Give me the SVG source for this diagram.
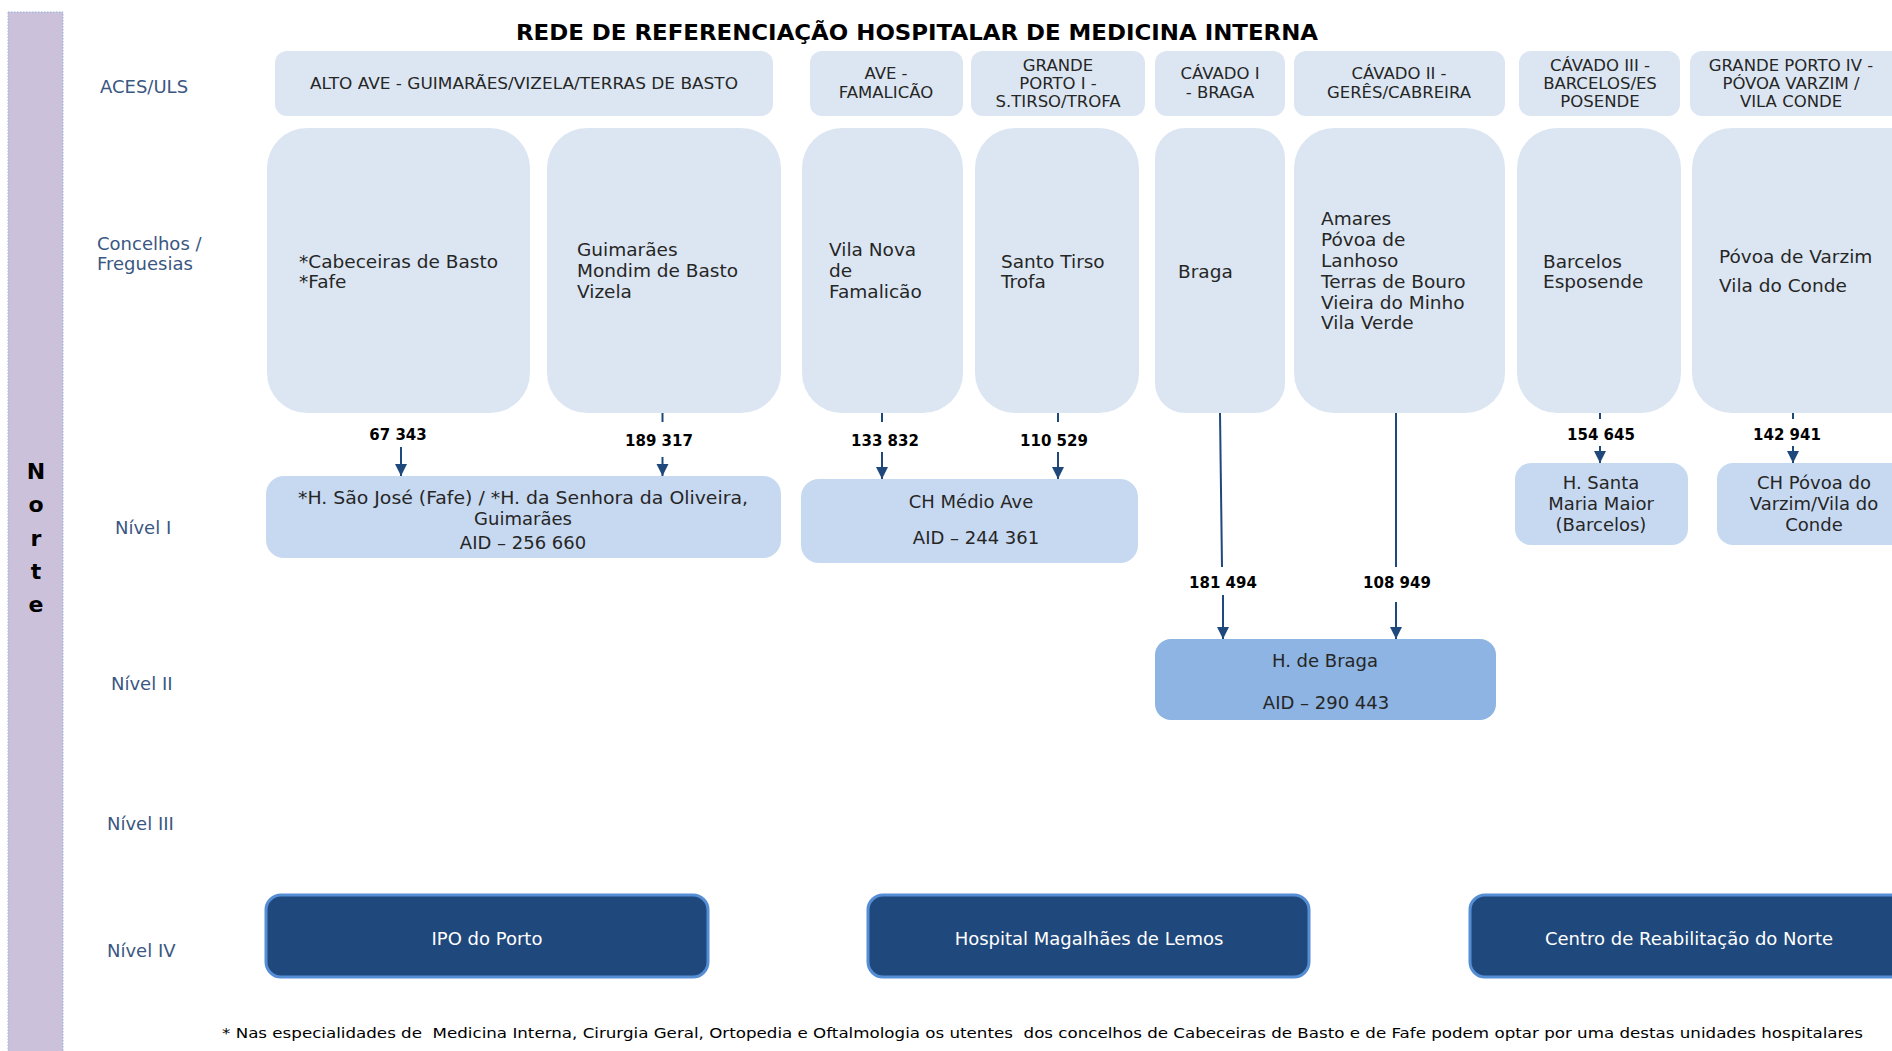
<svg xmlns="http://www.w3.org/2000/svg" width="1892" height="1051" viewBox="0 0 1892 1051">
<style>
text{font-family:"DejaVu Sans","Liberation Sans",sans-serif}
.title{font-size:21px;font-weight:bold;fill:#000}
.lvl{font-size:18px;fill:#3A5782}
.aces{font-size:16.5px;fill:#262626;text-anchor:middle}
.conc{font-size:18.5px;fill:#262626}
.hosp{font-size:18px;fill:#262626;text-anchor:middle}
.num{font-size:15px;font-weight:bold;fill:#000;text-anchor:middle}
.wt{font-size:18px;fill:#fff;text-anchor:middle}
.foot{font-size:14px;fill:#000}
.norte{font-size:22px;font-weight:bold;fill:#000;text-anchor:middle}
.bx{fill:#DCE6F2}
.n1{fill:#C6D9F1}
.n2{fill:#8DB4E2}
.n4{fill:#1F497D;stroke:#558ED5;stroke-width:3}
.ln{stroke:#1F497D;stroke-width:2;fill:none}
.ar{stroke:#1F497D;stroke-width:2;fill:none;marker-end:url(#ah)}
</style>
<defs>
<marker id="ah" markerUnits="userSpaceOnUse" markerWidth="13" markerHeight="13" refX="12" refY="6.5" orient="auto">
<path d="M0,0.5 L12,6.5 L0,12.5 z" fill="#1F497D"/>
</marker>
</defs>
<rect width="1892" height="1051" fill="#fff"/>

<g id="side">
<rect x="8" y="12" width="55" height="1050" fill="#CCC1DA" stroke="#95B3D7" stroke-width="1" stroke-dasharray="1.5,1.5"/>
<text class="norte" x="36" y="479">N</text>
<text class="norte" x="36" y="512">o</text>
<text class="norte" x="36" y="546">r</text>
<text class="norte" x="36" y="579">t</text>
<text class="norte" x="36" y="612">e</text>
</g>

<text id="title" class="title" x="516" y="40" textLength="802" lengthAdjust="spacingAndGlyphs">REDE DE REFERENCIAÇÃO HOSPITALAR DE MEDICINA INTERNA</text>

<g id="labels">
<text class="lvl" x="100" y="93">ACES/ULS</text>
<text class="lvl" x="97" y="250">Concelhos /</text>
<text class="lvl" x="97" y="270">Freguesias</text>
<text class="lvl" x="115" y="534">Nível I</text>
<text class="lvl" x="111" y="690">Nível II</text>
<text class="lvl" x="107" y="830">Nível III</text>
<text class="lvl" x="107" y="957">Nível IV</text>
</g>

<g id="aces1"><rect class="bx" x="275" y="51" width="498" height="65" rx="12"/><text class="aces" x="524" y="89" textLength="428" lengthAdjust="spacingAndGlyphs">ALTO AVE - GUIMARÃES/VIZELA/TERRAS DE BASTO</text></g>
<g id="aces2"><rect class="bx" x="810" y="51" width="153" height="65" rx="12"/><text class="aces" x="886" y="79">AVE -</text><text class="aces" x="886" y="98">FAMALICÃO</text></g>
<g id="aces3"><rect class="bx" x="971" y="51" width="174" height="65" rx="12"/><text class="aces" x="1058" y="71">GRANDE</text><text class="aces" x="1058" y="89">PORTO I -</text><text class="aces" x="1058" y="107">S.TIRSO/TROFA</text></g>
<g id="aces4"><rect class="bx" x="1155" y="51" width="130" height="65" rx="12"/><text class="aces" x="1220" y="79">CÁVADO I</text><text class="aces" x="1220" y="98">- BRAGA</text></g>
<g id="aces5"><rect class="bx" x="1294" y="51" width="211" height="65" rx="12"/><text class="aces" x="1399" y="79">CÁVADO II -</text><text class="aces" x="1399" y="98">GERÊS/CABREIRA</text></g>
<g id="aces6"><rect class="bx" x="1519" y="51" width="161" height="65" rx="12"/><text class="aces" x="1600" y="71">CÁVADO III -</text><text class="aces" x="1600" y="89">BARCELOS/ES</text><text class="aces" x="1600" y="107">POSENDE</text></g>
<g id="aces7"><rect class="bx" x="1690" y="51" width="230" height="65" rx="12"/><text class="aces" x="1791" y="71">GRANDE PORTO IV -</text><text class="aces" x="1791" y="89">PÓVOA VARZIM /</text><text class="aces" x="1791" y="107">VILA CONDE</text></g>

<g id="conc1"><rect class="bx" x="267" y="128" width="263" height="285" rx="40"/><text class="conc" x="299" y="268">*Cabeceiras de Basto</text><text class="conc" x="299" y="288">*Fafe</text></g>
<g id="conc2"><rect class="bx" x="547" y="128" width="234" height="285" rx="40"/><text class="conc" x="577" y="256">Guimarães</text><text class="conc" x="577" y="277">Mondim de Basto</text><text class="conc" x="577" y="298">Vizela</text></g>
<g id="conc3"><rect class="bx" x="802" y="128" width="161" height="285" rx="40"/><text class="conc" x="829" y="256">Vila Nova</text><text class="conc" x="829" y="277">de</text><text class="conc" x="829" y="298">Famalicão</text></g>
<g id="conc4"><rect class="bx" x="975" y="128" width="164" height="285" rx="40"/><text class="conc" x="1001" y="268">Santo Tirso</text><text class="conc" x="1001" y="288">Trofa</text></g>
<g id="conc5"><rect class="bx" x="1155" y="128" width="130" height="285" rx="30"/><text class="conc" x="1178" y="278">Braga</text></g>
<g id="conc6"><rect class="bx" x="1294" y="128" width="211" height="285" rx="40"/><text class="conc" x="1321" y="225">Amares</text><text class="conc" x="1321" y="246">Póvoa de</text><text class="conc" x="1321" y="267">Lanhoso</text><text class="conc" x="1321" y="288">Terras de Bouro</text><text class="conc" x="1321" y="309">Vieira do Minho</text><text class="conc" x="1321" y="329">Vila Verde</text></g>
<g id="conc7"><rect class="bx" x="1517" y="128" width="164" height="285" rx="40"/><text class="conc" x="1543" y="268">Barcelos</text><text class="conc" x="1543" y="288">Esposende</text></g>
<g id="conc8"><rect class="bx" x="1692" y="128" width="240" height="285" rx="40"/><text class="conc" x="1719" y="263">Póvoa de Varzim</text><text class="conc" x="1719" y="292">Vila do Conde</text></g>

<g id="h1"><rect class="n1" x="266" y="476" width="515" height="82" rx="18"/><text class="hosp" x="523" y="504" textLength="450" lengthAdjust="spacingAndGlyphs">*H. São José (Fafe) / *H. da Senhora da Oliveira,</text><text class="hosp" x="523" y="525">Guimarães</text><text class="hosp" x="523" y="549">AID – 256 660</text></g>
<g id="h2"><rect class="n1" x="801" y="479" width="337" height="84" rx="18"/><text class="hosp" x="971" y="508">CH Médio Ave</text><text class="hosp" x="976" y="544">AID – 244 361</text></g>
<g id="h3"><rect class="n1" x="1515" y="463" width="173" height="82" rx="16"/><text class="hosp" x="1601" y="489">H. Santa</text><text class="hosp" x="1601" y="510">Maria Maior</text><text class="hosp" x="1601" y="531">(Barcelos)</text></g>
<g id="h4"><rect class="n1" x="1717" y="463" width="200" height="82" rx="16"/><text class="hosp" x="1814" y="489">CH Póvoa do</text><text class="hosp" x="1814" y="510">Varzim/Vila do</text><text class="hosp" x="1814" y="531">Conde</text></g>
<g id="h5"><rect class="n2" x="1155" y="639" width="341" height="81" rx="16"/><text class="hosp" x="1325" y="667">H. de Braga</text><text class="hosp" x="1326" y="709">AID – 290 443</text></g>

<g id="ipo"><rect class="n4" x="266" y="895" width="442" height="82" rx="15"/><text class="wt" x="487" y="945">IPO do Porto</text></g>
<g id="hml"><rect class="n4" x="868" y="895" width="441" height="82" rx="15"/><text class="wt" x="1089" y="945">Hospital Magalhães de Lemos</text></g>
<g id="crn"><rect class="n4" x="1470" y="895" width="450" height="82" rx="15"/><text class="wt" x="1689" y="945">Centro de Reabilitação do Norte</text></g>

<g id="connectors">
<line class="ar" x1="401" y1="447" x2="401" y2="476"/>
<line class="ln" x1="662.5" y1="413" x2="662.5" y2="422"/>
<line class="ar" x1="662.5" y1="457" x2="662.5" y2="476"/>
<line class="ln" x1="882" y1="413" x2="882" y2="422"/>
<line class="ar" x1="882" y1="452" x2="882" y2="479"/>
<line class="ln" x1="1058" y1="413" x2="1058" y2="422"/>
<line class="ar" x1="1058" y1="452" x2="1058" y2="479"/>
<line class="ln" x1="1220" y1="413" x2="1222" y2="567"/>
<line class="ar" x1="1223" y1="595" x2="1223" y2="639"/>
<line class="ln" x1="1396" y1="413" x2="1396" y2="567"/>
<line class="ar" x1="1396" y1="602" x2="1396" y2="639"/>
<line class="ln" x1="1600" y1="413" x2="1600" y2="419"/>
<line class="ar" x1="1600" y1="446" x2="1600" y2="463"/>
<line class="ln" x1="1793" y1="413" x2="1793" y2="419"/>
<line class="ar" x1="1793" y1="446" x2="1793" y2="463"/>
</g>

<g id="numbers">
<text class="num" x="398" y="440">67 343</text>
<text class="num" x="659" y="446">189 317</text>
<text class="num" x="885" y="446">133 832</text>
<text class="num" x="1054" y="446">110 529</text>
<text class="num" x="1601" y="440">154 645</text>
<text class="num" x="1787" y="440">142 941</text>
<text class="num" x="1223" y="588">181 494</text>
<text class="num" x="1397" y="588">108 949</text>
</g>

<text id="footnote" class="foot" x="222" y="1038" textLength="1641" lengthAdjust="spacingAndGlyphs" xml:space="preserve">* Nas especialidades de  Medicina Interna, Cirurgia Geral, Ortopedia e Oftalmologia os utentes  dos concelhos de Cabeceiras de Basto e de Fafe podem optar por uma destas unidades hospitalares</text>
</svg>
